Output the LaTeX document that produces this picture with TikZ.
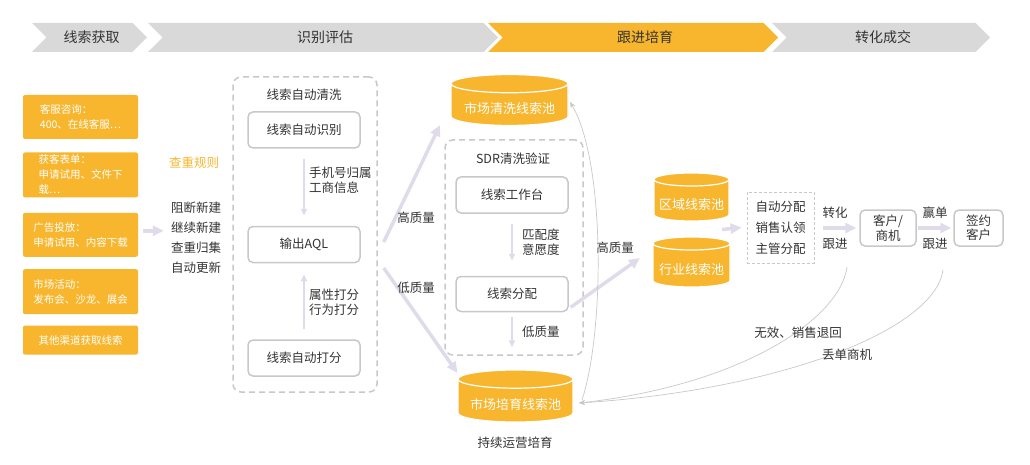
\documentclass[tikz,border=0pt]{standalone}
\usepackage{fontspec}
\setmainfont{Noto Sans CJK SC}
\usepackage{tikz}
\usetikzlibrary{shapes,shapes.geometric,shapes.symbols,arrows.meta,positioning,calc}
\definecolor{amber}{RGB}{247, 182, 45}
\definecolor{phasegray}{RGB}{217, 217, 217}
\definecolor{lilac}{RGB}{224, 219, 234}
\definecolor{rim}{RGB}{200, 200, 200}
\definecolor{ink}{RGB}{51, 51, 51}
\tikzstyle{phasebar} = [signal, signal to=east, signal from=west, signal pointer angle=90, fill=phasegray, text=ink, minimum height=29pt, inner sep=0pt, font=\fontsize{14}{14}\selectfont]
\tikzstyle{srcbox} = [rectangle, rounded corners=2pt, fill=amber, text=white, align=left, minimum width=115pt, inner sep=0pt, font=\fontsize{10.5}{15}\selectfont]
\tikzstyle{proc} = [rectangle, rounded corners=5pt, draw=rim, line width=1.5pt, minimum width=112pt, minimum height=36pt, text=ink, align=center, font=\fontsize{12.5}{14.5}\selectfont]
\tikzstyle{dbox} = [rectangle, rounded corners=8pt, draw=rim, line width=1.5pt, dash pattern=on 6pt off 4pt]
\tikzstyle{pool} = [cylinder, shape border rotate=90, aspect=0.2, anchor=shape center, draw=white, line width=1.2pt, cylinder uses custom fill, cylinder body fill=amber, cylinder end fill=amber, text=white, inner sep=0pt, text height=20pt, text depth=3pt, font=\fontsize{13}{13}\selectfont]
\tikzstyle{lbl} = [text=ink, inner sep=0pt, align=left, font=\fontsize{12.5}{15}\selectfont]
\tikzstyle{fat}  = [draw=lilac, line width=3.5pt, -{Triangle[length=11pt,width=10pt]}]
\tikzstyle{slim} = [draw=lilac, line width=2pt, -{Triangle[length=7pt,width=6pt]}]
\tikzstyle{back} = [draw=rim, line width=0.7pt, -{Stealth[length=6pt,width=5pt]}]
\begin{document}
\begin{tikzpicture}[x=1pt, y=-1pt]
\useasboundingbox (0,0) rectangle (1030,465);

% phases =============================
\node[phasebar, minimum width=115pt] (phacq) at (89.5,37.5) {\hspace*{4pt}线索获取};
\node[phasebar, minimum width=350pt] (phassess) at (323,37.5) {\hspace*{4pt}识别评估};
\node[phasebar, minimum width=290pt, fill=amber] (phnurt) at (633,37.5) {\hspace*{24pt}跟进培育};
\node[phasebar, minimum width=218pt] (phclose) at (881,37.5) {\hspace*{4pt}转化成交};

% lead sources
\node[srcbox, minimum height=44pt] (src1) at (80.5,117) {客服咨询：\\400、在线客服…};
\node[srcbox, minimum height=45pt, below=13pt of src1] (src2) {获客表单：\\申请试用、文件下\\载…};
\node[srcbox, minimum height=44pt, below=15pt of src2] (src3) {广告投放：\\申请试用、内容下载};
\node[srcbox, minimum height=45pt, below=12pt of src3] (src4) {市场活动：\\发布会、沙龙、展会};
\node[srcbox, minimum height=29pt, below=11pt of src4] (src5) {其他渠道获取线索};

% dedup rules
\node[lbl, text=amber] (rulehead) at (194,163) {查重规则};
\node[lbl, font=\fontsize{12.5}{20}\selectfont] (rules) at (196,238) {阻断新建\\继续新建\\查重归集\\自动更新};
\path[fat] ($(src3.east)+(5,-4)$) -- ($(src3.east -| rules.west)+(-7,-4)$);

% auto cleaning
\node[dbox, minimum width=144pt, minimum height=315pt] (cleanbox) at (305,234.5) {};
\node[lbl] (cleantitle) at (304,95) {线索自动清洗};
\node[proc] (autoid) at (304,130) {线索自动识别};
\node[proc, below=77pt of autoid] (aql) {输出AQL};
\node[proc, below=76pt of aql] (score) {线索自动打分};

\path[slim, shorten <=10pt, shorten >=10pt] (autoid.south) -- (aql.north);
\node[lbl, anchor=west] (phoneinfo) at (309,180) {手机号归属\\工商信息};
\path[slim, shorten <=10pt, shorten >=11pt] (score.north) -- (aql.south);
\node[lbl, anchor=west] (scoreinfo) at (309,302) {属性打分\\行为打分};

% market pools
\node[pool, minimum width=117pt, minimum height=46pt] (wash) at (509.5,100) {市场清洗线索池};
\node[pool, minimum width=115pt, minimum height=52pt] (nurpool) at (515.5,396) {市场培育线索池};
\node[lbl] (keepnurt) at (515,443) {持续运营培育};

% edges AQL to pools
\path[fat] ($(cleanbox.east)+(6,7.5)$) -- ($(wash.shape center)+(-69.5,25)$);
\path[fat] ($(cleanbox.east)+(6,33.5)$) -- ($(nurpool.shape center)+(-58,-23)$);
\node[lbl] (hq1) at (416,218) {高质量};
\node[lbl] (lq1) at (416,288) {低质量};

% SDR check
\node[dbox, minimum width=138pt, minimum height=215pt] (sdrbox) at (514,247.5) {};
\node[lbl] (sdrtitle) at (513,159) {SDR清洗验证};
\node[proc] (workbench) at (512,195) {线索工作台};
\node[proc, minimum height=35pt, below=62pt of workbench] (assign) {线索分配};

\path[slim, shorten <=10pt, shorten >=15pt] (workbench.south) -- (assign.north);
\node[lbl, anchor=west] (matchinfo) at (522,242) {匹配度\\意愿度};
\path[slim, shorten <=5pt, shorten >=22pt] (assign.south) -- (assign.south |- nurpool.north);
\node[lbl, anchor=west] (lq2) at (522,332) {低质量};

% sales pools
\node[pool, minimum width=75pt, minimum height=48pt] (region) at (691.5,197) {区域线索池};
\node[pool, minimum width=77pt, minimum height=50pt] (industry) at (691.5,262) {行业线索池};

\path[fat] ($(assign.south east)+(2,-5)$) -- ($(industry.shape center)+(-51.5,-4)$);
\node[lbl] (hq2) at (615,248) {高质量};

% conversion
\node[lbl, align=center, draw=rim, line width=0.8pt, dash pattern=on 3pt off 2pt, minimum width=67pt, minimum height=71pt, font=\fontsize{12.5}{21}\selectfont] (dispatch) at (780.5,227.5) {自动分配\\销售认领\\主管分配};
\node[lbl] (conv) at (835,213) {转化};
\node[lbl] (follow1) at (835,244) {跟进};
\node[proc, minimum width=56pt] (deal) at (888,228) {客户/\\商机};
\node[lbl] (win) at (935,213) {赢单};
\node[lbl] (follow2) at (935,244) {跟进};
\node[proc, minimum width=49pt] (signed) at (978.5,228) {签约\\客户};

\path[fat] ($(region.shape center)!0.5!(industry.shape center)+(30.5,0)$) -- ($(dispatch.west)+(-5,0)$);
\path[fat] ($(dispatch.east)+(9,0.5)$) -- ($(deal.west)+(-3,0)$);
\path[fat] ($(deal.east)+(1,0)$) -- ($(signed.west)+(-2,0)$);

% edges back to pools
\coordinate (backin) at ($(nurpool.shape center)+(63.5,7)$);
\path[back] ($(follow1.south)+(12,17)$) .. controls ($(follow1.south)+(5,70)$) and ($(backin)+(161,-18)$) .. (backin);
\path[back] ($(follow2.south)+(8,20)$) .. controls ($(follow2.south)+(0,80)$) and ($(backin)+(201,-13)$) .. (backin);
\path[back] ($(backin)+(3,-3)$) .. controls ($(backin)+(26,-73)$) and ($(backin)+(26,-243)$) .. ($(wash.shape center)+(60.5,2)$);
\node[lbl] (invalid) at (798,333) {无效、销售退回};
\node[lbl] (lostdeal) at (847,355) {丢单商机};

\end{tikzpicture}
\end{document}
